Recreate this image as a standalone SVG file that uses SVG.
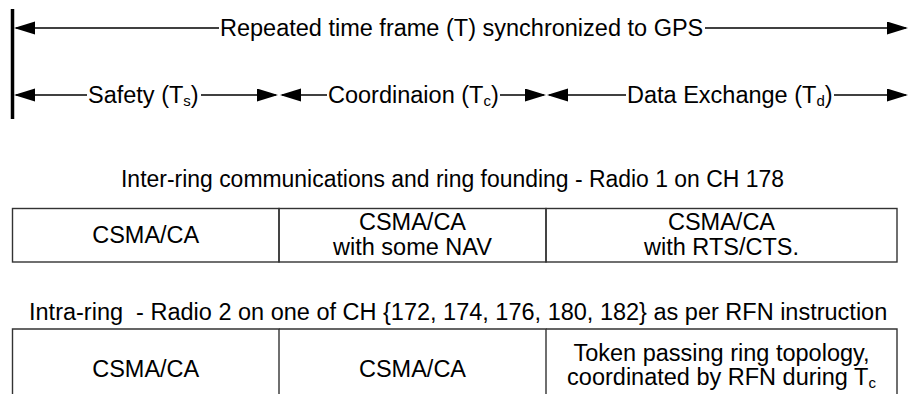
<svg xmlns="http://www.w3.org/2000/svg" width="908" height="394" viewBox="0 0 908 394">
  <style>
    text { font-family: "Liberation Sans", Arial, sans-serif; font-size: 23.5px; fill: #000; }
    .c { text-anchor: middle; }
    .ln { stroke: #000; stroke-width: 1.5; fill: none; }
    .arr { marker-end: url(#ah); }
    .cell { fill: none; stroke: #333; stroke-width: 1.4; }
    .bar { stroke: #000; stroke-width: 3.5; }
  </style>
  <defs>
    <marker id="ah" markerUnits="userSpaceOnUse" markerWidth="23" markerHeight="14" refX="19" refY="6.5" orient="auto">
      <path d="M0,0 L21,6.5 L0,13 Z" fill="#000"/>
    </marker>
  </defs>
  <rect width="908" height="394" fill="#fff"/>

  <g id="connectors">
    <line class="bar" x1="12.5" y1="9" x2="12.5" y2="119"/>
    <line class="ln arr" x1="219" y1="28" x2="16" y2="28"/>
    <line class="ln arr" x1="705" y1="28" x2="906" y2="28"/>
    <line class="ln arr" x1="87" y1="95" x2="16" y2="95"/>
    <line class="ln arr" x1="201" y1="95" x2="276" y2="95"/>
    <line class="ln arr" x1="327" y1="95" x2="282" y2="95"/>
    <line class="ln arr" x1="500" y1="95" x2="544" y2="95"/>
    <line class="ln arr" x1="626" y1="95" x2="549" y2="95"/>
    <line class="ln arr" x1="834" y1="95" x2="906" y2="95"/>
  </g>

  <g id="frame-label">
    <text x="220" y="36">Repeated time frame (T) synchronized to GPS</text>
  </g>
  <g id="safety-label">
    <text x="88" y="102.5">Safety (T<tspan font-size="15" dy="3">s</tspan><tspan dy="-3">)</tspan></text>
  </g>
  <g id="coordination-label">
    <text x="328" y="102.5">Coordinaion (T<tspan font-size="15" dy="3">c</tspan><tspan dy="-3">)</tspan></text>
  </g>
  <g id="data-label">
    <text x="627" y="102.5">Data Exchange (T<tspan font-size="15" dy="3">d</tspan><tspan dy="-3">)</tspan></text>
  </g>

  <g id="inter-ring-title">
    <text x="121" y="187" textLength="663" lengthAdjust="spacingAndGlyphs">Inter-ring communications and ring founding - Radio 1 on CH 178</text>
  </g>
  <g id="inter-safety">
    <rect class="cell" x="12.5" y="208.5" width="266.5" height="53.5"/>
    <text class="c" x="145.7" y="243">CSMA/CA</text>
  </g>
  <g id="inter-coord">
    <rect class="cell" x="279" y="208.5" width="267" height="53.5"/>
    <text class="c" x="412.5" y="230">CSMA/CA</text>
    <text class="c" x="412.5" y="255">with some NAV</text>
  </g>
  <g id="inter-data">
    <rect class="cell" x="546" y="208.5" width="351" height="53.5"/>
    <text class="c" x="721.5" y="230">CSMA/CA</text>
    <text class="c" x="721.5" y="255">with RTS/CTS.</text>
  </g>

  <g id="intra-ring-title">
    <text x="29" y="320" xml:space="preserve">Intra-ring  - Radio 2 on one of CH {172, 174, 176, 180, 182} as per RFN instruction</text>
  </g>
  <g id="intra-safety">
    <path class="cell" d="M12.5,395 V329 H279 V395"/>
    <text class="c" x="145.7" y="377">CSMA/CA</text>
  </g>
  <g id="intra-coord">
    <path class="cell" d="M279,329 H546 V395"/>
    <text class="c" x="412.5" y="377">CSMA/CA</text>
  </g>
  <g id="intra-data">
    <path class="cell" d="M546,329 H897 V395"/>
    <text class="c" x="721.5" y="361">Token passing ring topology,</text>
    <text class="c" x="721.5" y="385">coordinated by RFN during T<tspan font-size="15" dy="3">c</tspan></text>
  </g>
</svg>
